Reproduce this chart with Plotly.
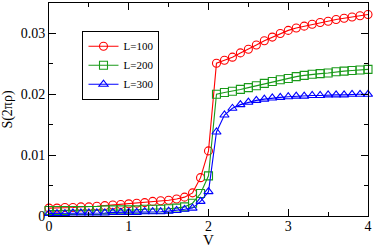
import plotly.graph_objects as go

V = [round(0.1 * i, 1) for i in range(41)]

S_L100 = [0.0013, 0.0013, 0.0014, 0.0014, 0.0015, 0.0015, 0.0016, 0.0017, 0.0018, 0.0019,
          0.0020, 0.0021, 0.0022, 0.0024, 0.0025, 0.0026, 0.0028, 0.0031, 0.0038, 0.0063,
          0.0107, 0.0251, 0.0256, 0.0261, 0.0268, 0.0274, 0.0281, 0.0288, 0.0294, 0.0300,
          0.0305, 0.0309, 0.0312, 0.0315, 0.0318, 0.0320, 0.0323, 0.0325, 0.0327, 0.0329,
          0.0331]
S_L200 = [0.0009, 0.0009, 0.0009, 0.0009, 0.0009, 0.0009, 0.0009, 0.0010, 0.0010, 0.0010,
          0.0010, 0.0010, 0.0011, 0.0011, 0.0011, 0.0012, 0.0013, 0.0015, 0.0021, 0.0037,
          0.0066, 0.0200, 0.0203, 0.0205, 0.0208, 0.0211, 0.0214, 0.0218, 0.0221, 0.0224,
          0.0226, 0.0229, 0.0231, 0.0233, 0.0234, 0.0235, 0.0237, 0.0238, 0.0239, 0.0240,
          0.0241]
S_L300 = [0.0004, 0.0004, 0.0004, 0.0005, 0.0005, 0.0005, 0.0005, 0.0005, 0.0006, 0.0006,
          0.0006, 0.0006, 0.0007, 0.0007, 0.0007, 0.0008, 0.0009, 0.0011, 0.0013, 0.0024,
          0.0040, 0.0138, 0.0166, 0.0177, 0.0183, 0.0187, 0.0190, 0.0192, 0.0194, 0.0195,
          0.0196, 0.0197, 0.0197, 0.0198, 0.0198, 0.0199, 0.0199, 0.0199, 0.0200, 0.0200,
          0.0200]

series = [
    ("L=100", S_L100, "red", "circle-open"),
    ("L=200", S_L200, "#1a9a1a", "square-open"),
    ("L=300", S_L300, "blue", "triangle-up-open"),
]

fig = go.Figure()
for name, ys, col, sym in series:
    fig.add_trace(go.Scatter(
        x=V, y=ys, name=name, mode="lines+markers",
        line=dict(color=col, width=1.1),
        marker=dict(symbol=sym, size=8, color=col, line=dict(width=1.1, color=col)),
        cliponaxis=False,
    ))

font = dict(family="Liberation Serif, Times New Roman, serif", size=14, color="black")

axis_common = dict(
    showline=True, linecolor="black", linewidth=1, mirror="ticks",
    ticks="inside", ticklen=7, tickcolor="black", tickwidth=1,
    showgrid=False, zeroline=False, tickfont=font,
)

fig.update_xaxes(range=[0, 4], dtick=1, tick0=0, ticklabelstandoff=-3,
                 minor=dict(ticks="inside", ticklen=4, dtick=0.5, tickcolor="black"),
                 **axis_common)
fig.update_yaxes(range=[0, 0.035], dtick=0.01, tick0=0,
                 minor=dict(ticks="inside", ticklen=4, dtick=0.005, tickcolor="black"),
                 title=dict(text="S(2πρ)", font=font, standoff=4), **axis_common)

fig.add_annotation(text="V", x=2, xref="x", y=-0.112, yref="paper",
                   xanchor="center", yanchor="middle", showarrow=False,
                   font=dict(family=font["family"], size=15, color="black"))

fig.update_layout(
    width=374, height=247,
    margin=dict(l=49, r=4, t=2, b=31),
    paper_bgcolor="white", plot_bgcolor="white",
    font=font,
    showlegend=True,
    legend=dict(x=0.105, y=0.87, xanchor="left", yanchor="top",
                bgcolor="white", bordercolor="black", borderwidth=1,
                font=dict(family="Liberation Serif, serif", size=11, color="black"),
                itemwidth=30, tracegroupgap=0),
)

fig.write_html("out.html", config={"displayModeBar": False},
               post_script="document.body.style.margin='0';document.body.style.overflow='hidden';")
